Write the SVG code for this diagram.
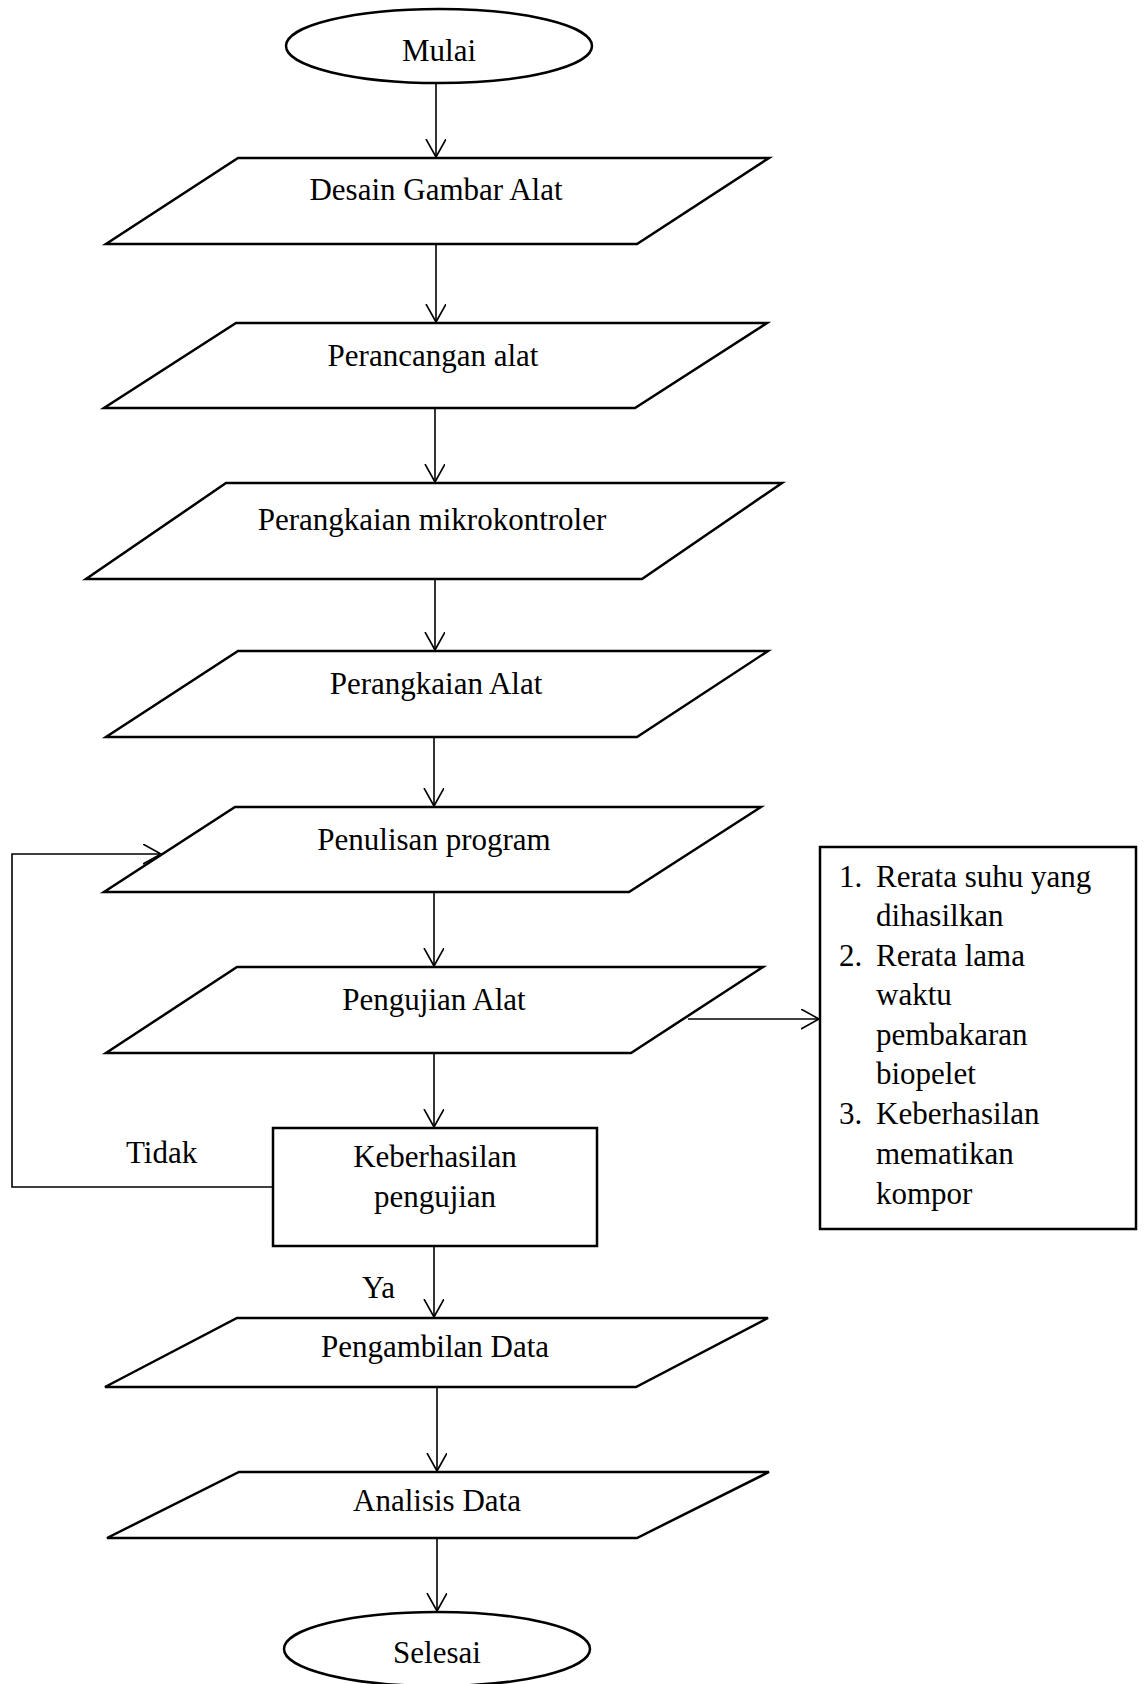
<svg xmlns="http://www.w3.org/2000/svg" width="1146" height="1684" viewBox="0 0 1146 1684">
<style>
.shape{fill:#fff;stroke:#000;stroke-width:2.5;stroke-linejoin:miter}
.conn{fill:none;stroke:#000;stroke-width:1.6}
text{font-family:"Liberation Serif","Times New Roman",serif;font-size:31px;fill:#000}
.c{text-anchor:middle}
</style>
<defs>
<marker id="arr" markerWidth="24" markerHeight="24" refX="18" refY="10" orient="auto" markerUnits="userSpaceOnUse">
<path d="M0,0 L18,10 L0,20" fill="none" stroke="#000" stroke-width="1.6"/>
</marker>
</defs>
<rect width="1146" height="1684" fill="#fff"/>
<g id="connectors">
<line class="conn" x1="436" y1="83" x2="436" y2="157" marker-end="url(#arr)"/>
<line class="conn" x1="436" y1="244" x2="436" y2="322" marker-end="url(#arr)"/>
<line class="conn" x1="435" y1="408" x2="435" y2="482" marker-end="url(#arr)"/>
<line class="conn" x1="435" y1="579" x2="435" y2="650" marker-end="url(#arr)"/>
<line class="conn" x1="434" y1="737" x2="434" y2="806" marker-end="url(#arr)"/>
<line class="conn" x1="434" y1="892" x2="434" y2="966" marker-end="url(#arr)"/>
<line class="conn" x1="434" y1="1053" x2="434" y2="1127" marker-end="url(#arr)"/>
<line class="conn" x1="434" y1="1246" x2="434" y2="1317" marker-end="url(#arr)"/>
<line class="conn" x1="437" y1="1387" x2="437" y2="1471" marker-end="url(#arr)"/>
<line class="conn" x1="437" y1="1538" x2="437" y2="1611" marker-end="url(#arr)"/>
<line class="conn" x1="688" y1="1019" x2="819" y2="1019" marker-end="url(#arr)"/>
<polyline class="conn" points="273,1187 12,1187 12,854 161,854" marker-end="url(#arr)"/>
</g>
<g id="mulai">
<ellipse class="shape" cx="439" cy="46" rx="153" ry="37"/>
<text class="c" x="439" y="61">Mulai</text>
</g>
<g id="desain">
<polygon class="shape" points="238,158 769,158 637,244 106,244"/>
<text class="c" x="436" y="200">Desain Gambar Alat</text>
</g>
<g id="perancangan">
<polygon class="shape" points="236,323 767,323 635,408 104,408"/>
<text class="c" x="433" y="366">Perancangan alat</text>
</g>
<g id="mikrokontroler">
<polygon class="shape" points="226,483 782,483 642,579 86,579"/>
<text class="c" x="432" y="530">Perangkaian mikrokontroler</text>
</g>
<g id="perangkaian">
<polygon class="shape" points="238,651 768,651 637,737 106,737"/>
<text class="c" x="436" y="694">Perangkaian Alat</text>
</g>
<g id="penulisan">
<polygon class="shape" points="235,807 761,807 629,892 104,892"/>
<text class="c" x="434" y="850">Penulisan program</text>
</g>
<g id="pengujian">
<polygon class="shape" points="237,967 763,967 631,1053 106,1053"/>
<text class="c" x="434" y="1010">Pengujian Alat</text>
</g>
<g id="output-box">
<rect class="shape" x="820" y="847" width="316" height="382"/>
<text x="839" y="887">1.</text><text x="876" y="887">Rerata suhu yang</text>
<text x="876" y="926">dihasilkan</text>
<text x="839" y="966">2.</text><text x="876" y="966">Rerata lama</text>
<text x="876" y="1005">waktu</text>
<text x="876" y="1045">pembakaran</text>
<text x="876" y="1084">biopelet</text>
<text x="839" y="1124">3.</text><text x="876" y="1124">Keberhasilan</text>
<text x="876" y="1164">mematikan</text>
<text x="876" y="1204">kompor</text>
</g>
<g id="keberhasilan">
<rect class="shape" x="273" y="1128" width="324" height="118"/>
<text class="c" x="435" y="1167">Keberhasilan</text>
<text class="c" x="435" y="1207">pengujian</text>
</g>
<g id="label-tidak"><text x="126" y="1163">Tidak</text></g>
<g id="label-ya"><text x="362" y="1298">Ya</text></g>
<g id="pengambilan">
<polygon class="shape" points="237,1318 768,1318 636,1387 105,1387"/>
<text class="c" x="435" y="1357">Pengambilan Data</text>
</g>
<g id="analisis">
<polygon class="shape" points="239,1472 769,1472 637,1538 107,1538"/>
<text class="c" x="437" y="1511">Analisis Data</text>
</g>
<g id="selesai">
<ellipse class="shape" cx="437" cy="1649" rx="153" ry="37"/>
<text class="c" x="437" y="1663">Selesai</text>
</g>
</svg>
